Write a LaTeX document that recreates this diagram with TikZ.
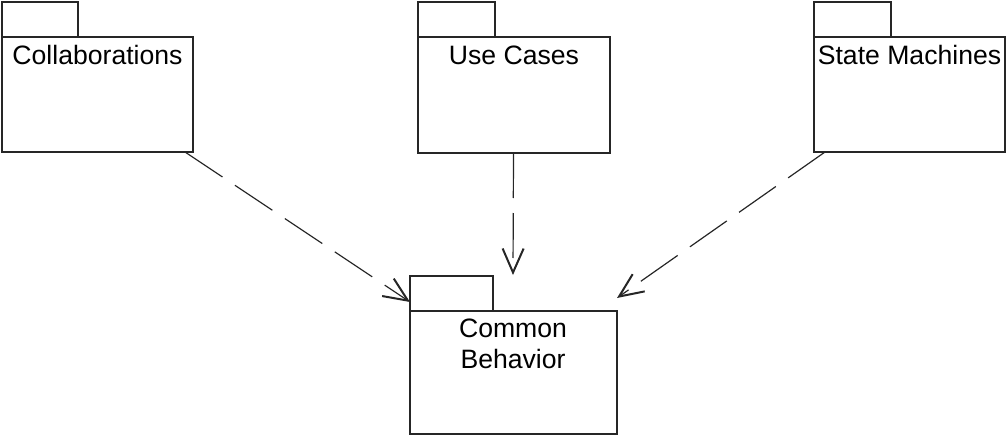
\documentclass[tikz,border=0pt]{standalone}
\usepackage{fontspec}
\setmainfont{Liberation Sans}
\usetikzlibrary{arrows.meta,calc}
\begin{document}
\begin{tikzpicture}[x=1pt,y=-1pt,
  pkgline/.style={draw=black!85, line width=1.1pt},
  pkgbody/.style={pkgline, rectangle, anchor=north west, inner sep=0pt, outer sep=0pt},
  pkgtab/.style={pkgline, rectangle, anchor=south west, inner sep=0pt, outer sep=0pt, minimum height=35pt},
  pkgtext/.style={anchor=base, inner sep=0pt, font=\fontsize{26.6}{31}\selectfont, align=center},
  dep/.style={draw=black!85, line width=1.2pt, dash pattern=on 45pt off 15pt,
    -{Straight Barb[length=24pt, width=21pt, line width=2pt]}}
]
\useasboundingbox (0,0) rectangle (1007,436);

% Collaborations
\node[pkgbody, minimum width=191pt, minimum height=115pt] (coll) at (2,37) {};
\node[pkgtab, minimum width=76pt] (colltab) at (coll.north west) {};
\node[pkgtext] (colltxt) at (97.5,64.5) {Collaborations};

% Use Cases
\node[pkgbody, minimum width=192pt, minimum height=116pt] (uc) at (418,37) {};
\node[pkgtab, minimum width=77pt] (uctab) at (uc.north west) {};
\node[pkgtext] (uctxt) at (514,64.5) {Use Cases};

% State Machines
\node[pkgbody, minimum width=191pt, minimum height=115pt] (sm) at (814,37) {};
\node[pkgtab, minimum width=77pt] (smtab) at (sm.north west) {};
\node[pkgtext] (smtxt) at (909.5,64.5) {State Machines};

% Common Behavior
\node[pkgbody, minimum width=207pt, minimum height=123pt] (cb) at (410,311) {};
\node[pkgtab, minimum width=83pt] (cbtab) at (cb.north west) {};
\node[pkgtext] (cbtxt) at (513,368) {Common\\Behavior};

% connector ends
\coordinate (collout) at ($(coll.south east)+(-8,0)$);
\coordinate (ucout) at ($(uc.south)+(-0.5,0)$);
\coordinate (smout) at ($(sm.south west)+(11,0)$);
\coordinate (cbin1) at ($(cb.north west)+(0,-9)$);
\coordinate (cbin2) at ($(cb.north)+(-0.5,-36)$);
\coordinate (cbin3) at ($(cb.north east)+(0,-13)$);

\draw[dep] (collout) -- (cbin1);
\draw[dep] (ucout) -- (cbin2);
\draw[dep] (smout) -- (cbin3);
\end{tikzpicture}
\end{document}
